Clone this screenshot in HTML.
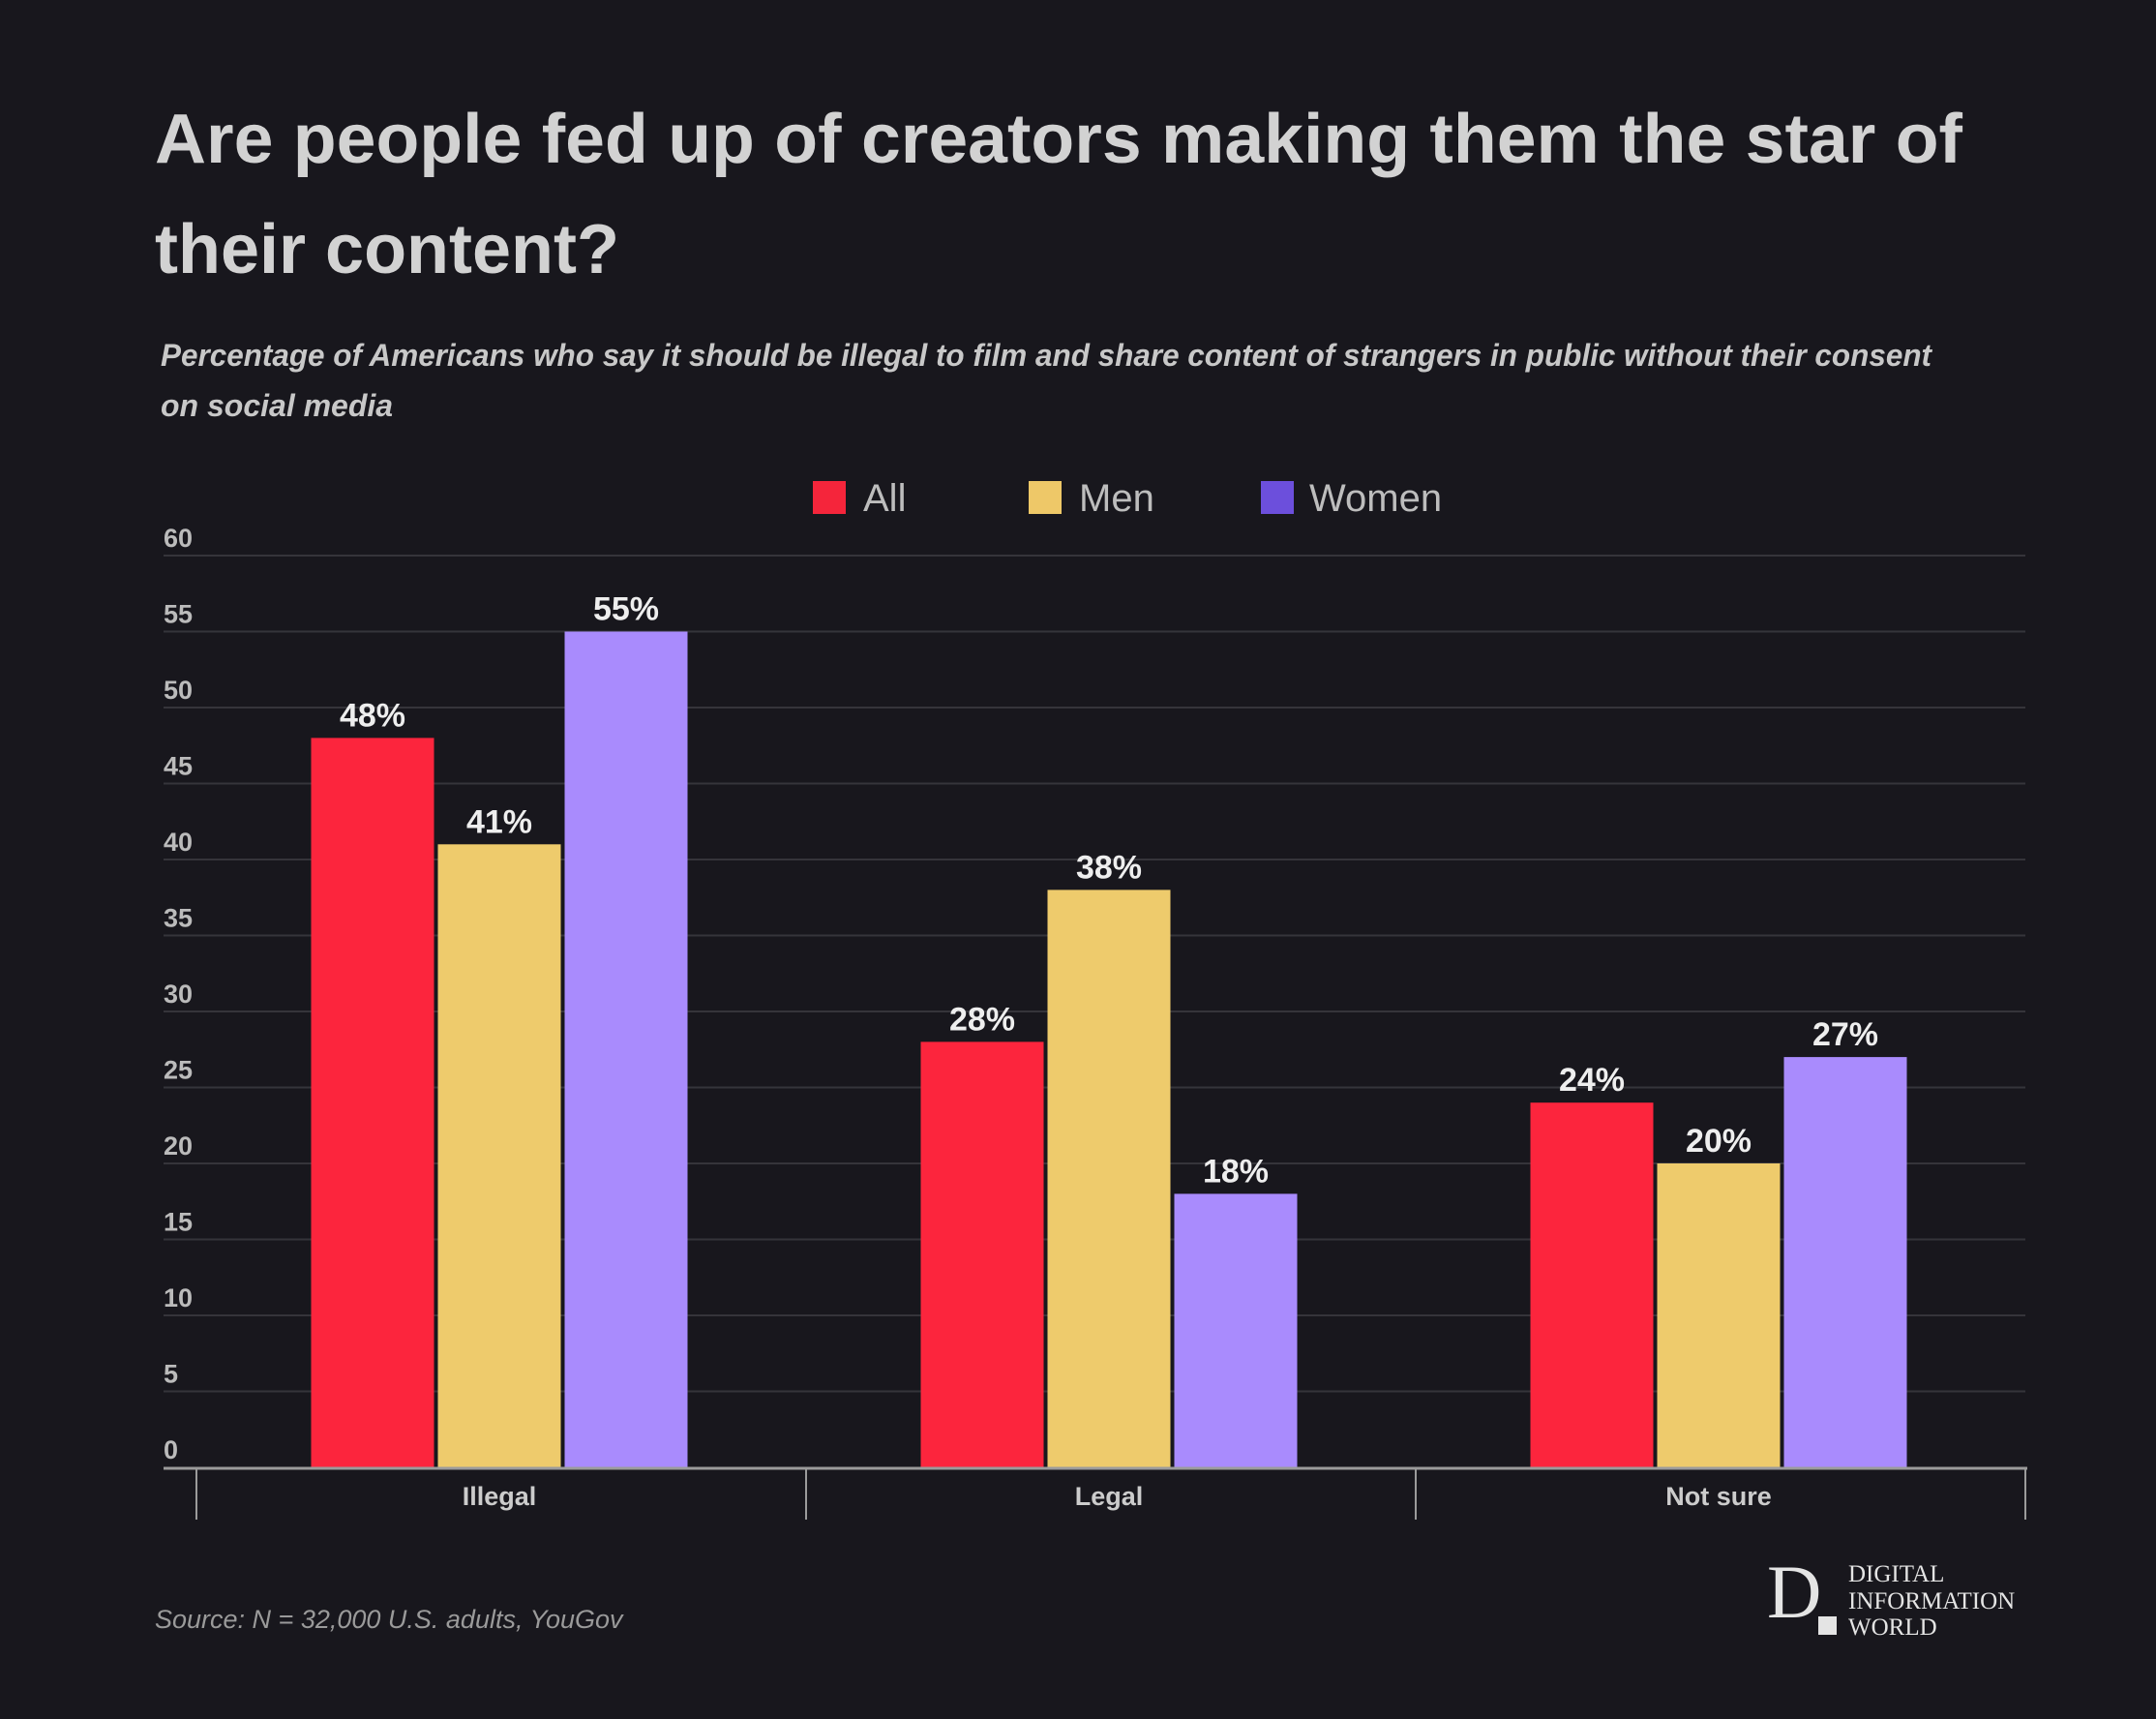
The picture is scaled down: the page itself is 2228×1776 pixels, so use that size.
<!DOCTYPE html>
<html><head><meta charset="utf-8"><style>
html,body{margin:0;padding:0;background:#18171d;}
svg{display:block;}
text{font-family:"Liberation Sans",sans-serif;}
</style></head><body>
<svg id="chart" width="2228" height="1776" viewBox="0 0 2228 1776">
<rect width="2228" height="1776" fill="#18171d"/>
<text x="160" y="168" font-size="72" font-weight="bold" fill="#d2d2d2" textLength="1868" lengthAdjust="spacingAndGlyphs">Are people fed up of creators making them the star of</text>
<text x="160" y="282" font-size="72" font-weight="bold" fill="#d2d2d2">their content?</text>
<text x="166" y="378" font-size="32" font-weight="bold" font-style="italic" fill="#c8c8c8" textLength="1830" lengthAdjust="spacingAndGlyphs">Percentage of Americans who say it should be illegal to film and share content of strangers in public without their consent</text>
<text x="166" y="430" font-size="32" font-weight="bold" font-style="italic" fill="#c8c8c8">on social media</text>
<g>
<g><rect x="840" y="497" width="34" height="34" fill="#f5253b"/><text x="892" y="528" font-size="40" fill="#bdbdbd">All</text></g>
<g><rect x="1063" y="497" width="34" height="34" fill="#eec868"/><text x="1115" y="528" font-size="40" fill="#bdbdbd">Men</text></g>
<g><rect x="1303" y="497" width="34" height="34" fill="#6c4fdc"/><text x="1353" y="528" font-size="40" fill="#bdbdbd">Women</text></g>
</g>
<g id="grid"></g>
<g id="bars"></g>
<g id="axis"></g>
<text x="160" y="1682" font-size="27" font-style="italic" fill="#9a9a9a">Source: N = 32,000 U.S. adults, YouGov</text>
<g>
<text x="1826" y="1671" font-size="78" fill="#e4e4e4" style="font-family:'Liberation Serif',serif">D</text>
<rect x="1879" y="1670" width="19" height="19" fill="#e4e4e4"/>
<text x="1910" y="1634" font-size="25" fill="#e4e4e4" style="font-family:'Liberation Serif',serif">DIGITAL</text>
<text x="1910" y="1662" font-size="25" fill="#e4e4e4" style="font-family:'Liberation Serif',serif">INFORMATION</text>
<text x="1910" y="1689" font-size="25" fill="#e4e4e4" style="font-family:'Liberation Serif',serif">WORLD</text>
</g>
</svg>
<script>
const categories = ["Illegal", "Legal", "Not sure"];
const seriesNames = ["All", "Men", "Women"];
const allValues = [48, 28, 24];
const menValues = [41, 38, 20];
const womenValues = [55, 18, 27];
const yTicks = [0, 5, 10, 15, 20, 25, 30, 35, 40, 45, 50, 55, 60];

const NS = "http://www.w3.org/2000/svg";
const plotLeft = 169, plotRight = 2093, axisLeft = 203;
const baseY = 1516, topY = 574, yMax = 60;
const groupW = (plotRight - axisLeft) / categories.length;
const barW = 127, barStep = 131;
const colors = ["#fc253d", "#eecb6c", "#a98bfd"];
const series = [allValues, menValues, womenValues];
function y(v) { return baseY - (v / yMax) * (baseY - topY); }
function groupCenter(i) { return axisLeft + groupW * (i + 0.5) + 313 - groupW / 2 - axisLeft + axisLeft - 313 + groupW / 2 + 0; }
function mk(tag, attrs, parent) {
  const e = document.createElementNS(NS, tag);
  for (const k in attrs) e.setAttribute(k, attrs[k]);
  parent.appendChild(e);
  return e;
}
function gc(i) { return axisLeft + groupW * (i + 0.5) - 2; }
const grid = document.getElementById("grid");
yTicks.forEach(t => {
  if (t > 0) {
    const l = mk("line", {x1: plotLeft, x2: plotRight, y1: y(t), y2: y(t), stroke: "#35343a", "stroke-width": 2}, grid);
    
    
  }
  const tx = mk("text", {x: plotLeft, y: y(t) - 9, "font-size": 27, "font-weight": "bold", fill: "#bbbbbb"}, grid);
  tx.textContent = t;
  
  
});
const bars = document.getElementById("bars");
categories.forEach((c, i) => {
  series.forEach((vals, s) => {
    const cx = gc(i) + (s - 1) * barStep;
    const r = mk("rect", {x: cx - barW / 2, y: y(vals[i]), width: barW, height: baseY - y(vals[i]), fill: colors[s]}, bars);
    
    
    const t = mk("text", {x: cx, y: y(vals[i]) - 12, "font-size": 34, "font-weight": "bold", fill: "#eeeeee", "text-anchor": "middle"}, bars);
    t.textContent = vals[i] + "%";
    
    
  });
});
const axis = document.getElementById("axis");
const al = mk("line", {x1: plotLeft, x2: plotRight + 2, y1: baseY + 1, y2: baseY + 1, stroke: "#9b9b9b", "stroke-width": 3}, axis);


for (let i = 0; i <= categories.length; i++) {
  const x = axisLeft + groupW * i;
  const tk = mk("line", {x1: x, x2: x, y1: baseY, y2: 1570, stroke: "#9b9b9b", "stroke-width": 2}, axis);
  
  
}
categories.forEach((c, i) => {
  const t = mk("text", {x: gc(i), y: 1555, "font-size": 27, "font-weight": "bold", fill: "#cccccc", "text-anchor": "middle"}, axis);
  t.textContent = c;
  
  
});
</script>
</body></html>
